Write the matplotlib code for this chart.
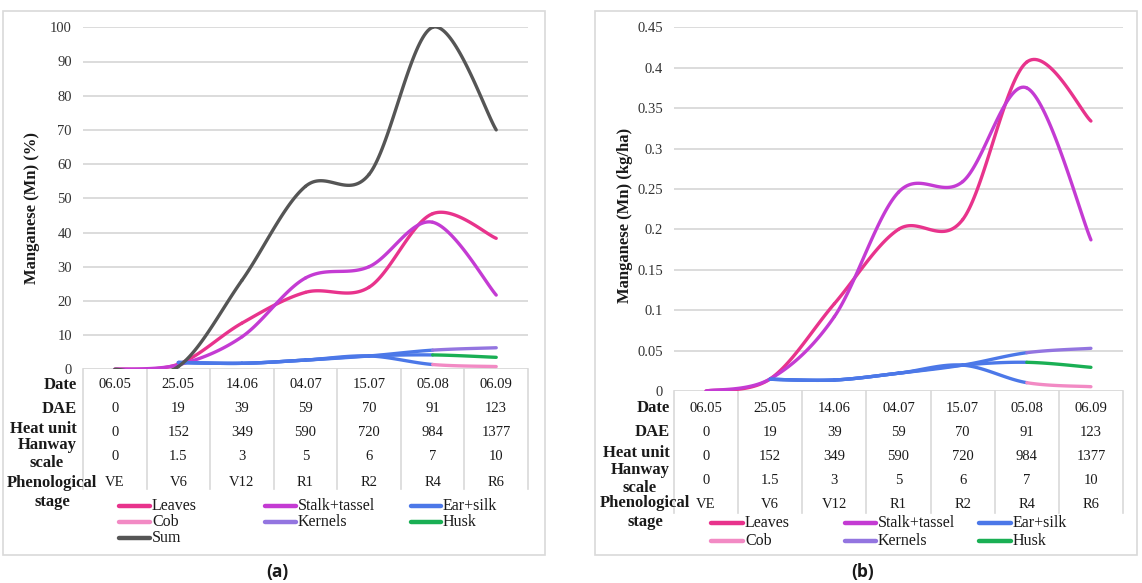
import numpy as np
import matplotlib
matplotlib.use("Agg")
import matplotlib.pyplot as plt
from matplotlib.patches import Rectangle
from matplotlib.lines import Line2D
from matplotlib.transforms import blended_transform_factory
from matplotlib.ticker import FuncFormatter, MultipleLocator

# ---------------- data ----------------
dates = ["06.05", "25.05", "14.06", "04.07", "15.07", "05.08", "06.09"]
dae = ["0", "19", "39", "59", "70", "91", "123"]
heat_units = ["0", "152", "349", "590", "720", "984", "1377"]
hanway = ["0", "1.5", "3", "5", "6", "7", "10"]
stages = ["VE", "V6", "V12", "R1", "R2", "R4", "R6"]

nan = np.nan
# panel (a): Mn share (%)
a_leaves = [0, 1.5, 13.5, 22.5, 24.0, 45.5, 38.3]
a_stalk = [0, 1.3, 9.5, 26.7, 30.0, 43.0, 21.7]
a_ear = [nan, 2.0, 1.75, 2.7, 3.9, nan, nan]
a_cob = [nan, nan, nan, nan, nan, 1.4, 0.8]
a_kernels = [nan, nan, nan, nan, nan, 5.6, 6.3]
a_husk = [nan, nan, nan, nan, nan, 4.2, 3.5]
a_sum = [0, 0.8, 26.0, 53.5, 57.0, 100.0, 70.0]

# panel (b): Mn uptake (kg/ha)
b_leaves = [0, 0.015, 0.108, 0.200, 0.212, 0.407, 0.334]
b_stalk = [0, 0.015, 0.092, 0.246, 0.259, 0.375, 0.187]
b_ear = [nan, 0.0145, 0.0136, 0.022, 0.032, nan, nan]
b_cob = [nan, nan, nan, nan, nan, 0.0103, 0.0053]
b_kernels = [nan, nan, nan, nan, nan, 0.0474, 0.0528]
b_husk = [nan, nan, nan, nan, nan, 0.0355, 0.0293]

labels = ["Leaves", "Stalk+tassel", "Ear+silk", "Cob", "Kernels", "Husk", "Sum"]
colors = {"Leaves": "#E8338C", "Stalk+tassel": "#C43BD3", "Ear+silk": "#4C78E8",
          "Cob": "#F28AC4", "Kernels": "#9375E0", "Husk": "#1AAF54", "Sum": "#555555"}

W, H = 1142, 583
SERIF = "Liberation Serif"
TXT = "#1a1a1a"
plt.rcParams["font.family"] = [SERIF, "DejaVu Serif"]


def fx(px):
    return px / W


def fy(py):
    return 1 - py / H


def smooth_segments(xs, ys, n=40):
    """Excel-like smoothed line: cubic Bezier with Catmull-Rom control points."""
    P = np.column_stack([xs, ys]).astype(float)
    segs = []
    t = np.linspace(0, 1, n)[:, None]
    for i in range(len(P) - 1):
        p0, p3 = P[i], P[i + 1]
        prev = P[i - 1] if i > 0 else P[i]
        nxt = P[i + 2] if i + 2 < len(P) else P[i + 1]
        c1 = p0 + (p3 - prev) / 6.0
        c2 = p3 - (nxt - p0) / 6.0
        pts = ((1 - t) ** 3) * p0 + 3 * ((1 - t) ** 2) * t * c1 + 3 * (1 - t) * t ** 2 * c2 + t ** 3 * p3
        segs.append(pts)
    return segs


def draw_series(ax, y, color, lw=2.4, z=3):
    y = np.asarray(y, float)
    x = np.arange(len(y))
    m = ~np.isnan(y)
    for s in smooth_segments(x[m], y[m]):
        ax.plot(s[:, 0], s[:, 1], color=color, lw=lw, solid_capstyle="round", zorder=z)


def draw_branch(ax, ear, part, part_color, lw=2.4, z=3):
    ear = np.asarray(ear, float)
    part = np.asarray(part, float)
    comb = np.where(np.isnan(ear), part, ear)
    x = np.arange(len(comb))
    m = ~np.isnan(comb)
    xs = x[m]
    for k, s in enumerate(smooth_segments(xs, comb[m])):
        col = colors["Ear+silk"] if np.isnan(part[xs[k]]) else part_color
        ax.plot(s[:, 0], s[:, 1], color=col, lw=lw, solid_capstyle="round", zorder=z)


fig = plt.figure(figsize=(W / 100, H / 100), dpi=100)
fig.patch.set_facecolor("white")

# panel frames
for (x0, x1) in [(3, 545), (595, 1137)]:
    fig.add_artist(Rectangle((fx(x0), fy(555)), fx(x1) - fx(x0), fy(11) - fy(555),
                             transform=fig.transFigure, fill=False, ec="#D9D9D9", lw=1.2))


def make_panel(rect_px, ylim, ystep, series, ylabel, ylabel_x, ylabel_y,
               row_y, val_y, label_right, leg_cols, leg_rows, caption, cap_x, table_bottom):
    left, right, top, bottom = rect_px
    ax = fig.add_axes([fx(left), fy(bottom), fx(right) - fx(left), fy(top) - fy(bottom)])
    ax.set_xlim(-0.5, len(dates) - 0.5)
    ax.set_ylim(*ylim)
    ax.yaxis.set_major_locator(MultipleLocator(ystep))
    ax.yaxis.set_major_formatter(FuncFormatter(lambda v, p: "%g" % round(v, 4)))
    for sp in ax.spines.values():
        sp.set_visible(False)
    ax.set_xticks([])
    ax.tick_params(axis="y", length=0, pad=8, labelsize=10.5, labelcolor="#333333")
    ax.yaxis.grid(True, color="#D9D9D9", lw=1.3)
    ax.set_axisbelow(True)
    ax.patch.set_alpha(0)

    # series
    leaves, stalk, ear, cob, kernels, husk, total = series
    draw_series(ax, leaves, colors["Leaves"], z=3)
    draw_series(ax, stalk, colors["Stalk+tassel"], z=4)
    draw_branch(ax, ear, cob, colors["Cob"], z=5)
    draw_branch(ax, ear, kernels, colors["Kernels"], z=5)
    draw_branch(ax, ear, husk, colors["Husk"], z=5)
    if total is not None:
        draw_series(ax, total, colors["Sum"], z=6)

    fig.text(fx(ylabel_x), fy(ylabel_y), ylabel, rotation=90, ha="center", va="center",
             family=SERIF, weight="bold", fontsize=12, color=TXT)

    # data table below the plot
    tr = blended_transform_factory(ax.transData, fig.transFigure)
    for b in np.arange(-0.5, len(dates), 1.0):
        ax.add_line(Line2D([b, b], [fy(bottom), fy(table_bottom)], transform=tr,
                           color="#D9D9D9", lw=1.2, clip_on=False))
    rows = [dates, dae, heat_units, hanway, stages]
    for vals, vy in zip(rows, val_y):
        for i, v in enumerate(vals):
            ax.text(i, fy(vy), v, transform=tr, ha="center", va="center",
                    family=SERIF, fontsize=10.5, color=TXT, clip_on=False)
    # row labels
    lab_kw = dict(family=SERIF, weight="bold", fontsize=12, color=TXT, va="center")
    fig.text(fx(label_right), fy(row_y[0]), "Date", ha="right", **lab_kw)
    fig.text(fx(label_right), fy(row_y[1]), "DAE", ha="right", **lab_kw)
    fig.text(fx(label_right), fy(row_y[2]), "Heat unit", ha="right", **lab_kw)
    hx = label_right - 30
    fig.text(fx(hx), fy(row_y[3]), "Hanway", ha="center", **lab_kw)
    fig.text(fx(hx), fy(row_y[4]), "scale", ha="center", **lab_kw)
    fig.text(fx(label_right - 25), fy(row_y[5]), "Phenological", ha="center", **lab_kw)
    fig.text(fx(label_right - 25), fy(row_y[6]), "stage", ha="center", **lab_kw)

    # legend
    names = labels if total is not None else labels[:-1]
    for k, name in enumerate(names):
        cx0, cx1 = leg_cols[k % 3]
        yy = fy(leg_rows[k // 3])
        fig.add_artist(Line2D([fx(cx0), fx(cx1)], [yy, yy], transform=fig.transFigure,
                              color=colors[name], lw=3.2, solid_capstyle="round"))
        fig.text(fx(cx1 + 2), yy, name, ha="left", va="center", family=SERIF,
                 fontsize=11.5, color=TXT)

    fig.text(fx(cap_x), fy(572), caption, ha="center", va="center",
             family=["Open Sans", "DejaVu Sans"], weight="bold", fontsize=12.5, color=TXT)
    return ax


make_panel((83, 528, 27.3, 369.3), (0, 100), 10,
           (a_leaves, a_stalk, a_ear, a_cob, a_kernels, a_husk, a_sum),
           "Manganese (Mn) (%)", 32, 208,
           row_y=[385, 409, 429, 445, 463, 483, 502],
           val_y=[385, 409, 433, 457, 482],
           label_right=77,
           leg_cols=[(119, 150), (265, 296), (411, 441)],
           leg_rows=[506, 522, 538],
           caption="(a)", cap_x=277, table_bottom=489)

make_panel((674, 1123, 27.3, 391), (0, 0.45), 0.05,
           (b_leaves, b_stalk, b_ear, b_cob, b_kernels, b_husk, None),
           "Manganese (Mn) (kg/ha)", 625, 215,
           row_y=[408, 432, 453, 470, 488, 503, 522],
           val_y=[408, 432, 456, 480, 504],
           label_right=670,
           leg_cols=[(711, 743), (845, 876), (979, 1011)],
           leg_rows=[523, 541],
           caption="(b)", cap_x=863, table_bottom=513)

fig.savefig("out.png", dpi=100, facecolor="white")
